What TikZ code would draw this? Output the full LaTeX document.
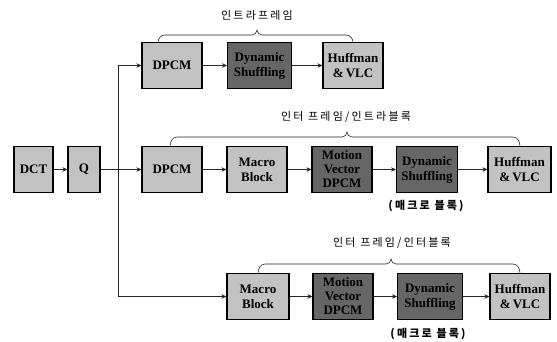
\documentclass[tikz,border=0pt]{standalone}
\usepackage{fontspec}
\setmainfont{Liberation Serif}[BoldFont={Liberation Serif Bold}]
\newfontfamily\kr[LetterSpace=20]{Noto Sans CJK KR}
\usetikzlibrary{arrows.meta,calc}
\begin{document}
\begin{tikzpicture}[x=1pt,y=1pt,
  blk/.style={draw=black, line width=1.1pt, minimum height=46pt, align=center,
    font=\fontsize{13}{15}\selectfont\bfseries, inner sep=0pt},
  lite/.style={blk, fill=black!24},
  dark/.style={blk, fill=black!60},
  conn/.style={line width=0.6pt, draw=black!85, -{Stealth[length=5pt,width=4.5pt]}},
  brc/.style={line width=0.6pt, draw=black!85},
  lbl/.style={font=\kr\fontsize{11}{13}\selectfont, inner sep=0pt}]
\useasboundingbox (0,0) rectangle (557,341);

% row 1
\node[lite, minimum width=60pt] (dpcmA) at (172,275.5) {DPCM};
\node[dark, minimum width=64pt] (dynA) at (259.5,275.5) {Dynamic\\Shuffling};
\node[lite, minimum width=60pt] (hufA) at (353,275.5) {Huffman\\\&\,VLC};

% row 2
\node[lite, minimum width=39pt] (dct) at (33.5,171.5) {DCT};
\node[lite, minimum width=32pt] (q) at (84,171.5) {Q};
\node[lite, minimum width=60pt] (dpcmB) at (172,171.5) {DPCM};
\node[lite, minimum width=60pt] (mbB) at (257,171.5) {Macro\\Block};
\node[dark, minimum width=60pt, font=\fontsize{13}{14}\selectfont\bfseries] (mvB) at (342,171.5) {Motion\\Vector\\DPCM};
\node[dark, minimum width=61pt] (dynB) at (427,171.5) {Dynamic\\Shuffling};
\node[lite, minimum width=63pt] (hufB) at (519.5,171.5) {Huffman\\\&\,VLC};

% row 3
\node[lite, minimum width=62pt] (mbC) at (258,44.5) {Macro\\Block};
\node[dark, minimum width=60pt, font=\fontsize{13}{14}\selectfont\bfseries] (mvC) at (343,44.5) {Motion\\Vector\\DPCM};
\node[dark, minimum width=65pt] (dynC) at (430,44.5) {Dynamic\\Shuffling};
\node[lite, minimum width=60pt] (hufC) at (520,44.5) {Huffman\\\&\,VLC};

% labels
\node[lbl] (t1) at (257,326) {인트라프레임};
\node[lbl] (t2) at (346,224) {인터 프레임/인트라블록};
\node[lbl] (t3) at (392,98) {인터 프레임/인터블록};
\node[lbl, font=\kr\fontsize{11}{13}\selectfont\bfseries] (m2) at (426,135) {(매크로 블록)};
\node[lbl, font=\kr\fontsize{11}{13}\selectfont\bfseries] (m3) at (428,7) {(매크로 블록)};

% braces
\draw[brc] (158,298.5) to[out=90,in=180] (165,306) -- (252,306)
  to[out=0,in=-90] (257,311) to[out=-90,in=180] (262,306) -- (346,306)
  to[out=0,in=90] (353,298.5);
\draw[brc] (170,194.5) to[out=90,in=180] (177,204) -- (342,204)
  to[out=0,in=-90] (347,209) to[out=-90,in=180] (352,204) -- (513,204)
  to[out=0,in=90] (520,194.5);
\draw[brc] (258,67.5) to[out=90,in=180] (265,77) -- (386,77)
  to[out=0,in=-90] (391,82) to[out=-90,in=180] (396,77) -- (513,77)
  to[out=0,in=90] (520,67.5);

% connectors
\coordinate (split) at (118,171.5);
\draw[conn] (dct) -- (q);
\draw[conn] (q) -- (dpcmB);
\draw[conn] (split) |- (dpcmA);
\draw[conn] (split) |- (mbC);

\draw[conn] (dpcmA) -- (dynA);
\draw[conn] (dynA) -- (hufA);

\draw[conn] (dpcmB) -- (mbB);
\draw[conn] (mbB) -- (mvB);
\draw[conn] (mvB) -- (dynB);
\draw[conn] (dynB) -- (hufB);

\draw[conn] (mbC) -- (mvC);
\draw[conn] (mvC) -- (dynC);
\draw[conn] (dynC) -- (hufC);
\end{tikzpicture}
\end{document}
